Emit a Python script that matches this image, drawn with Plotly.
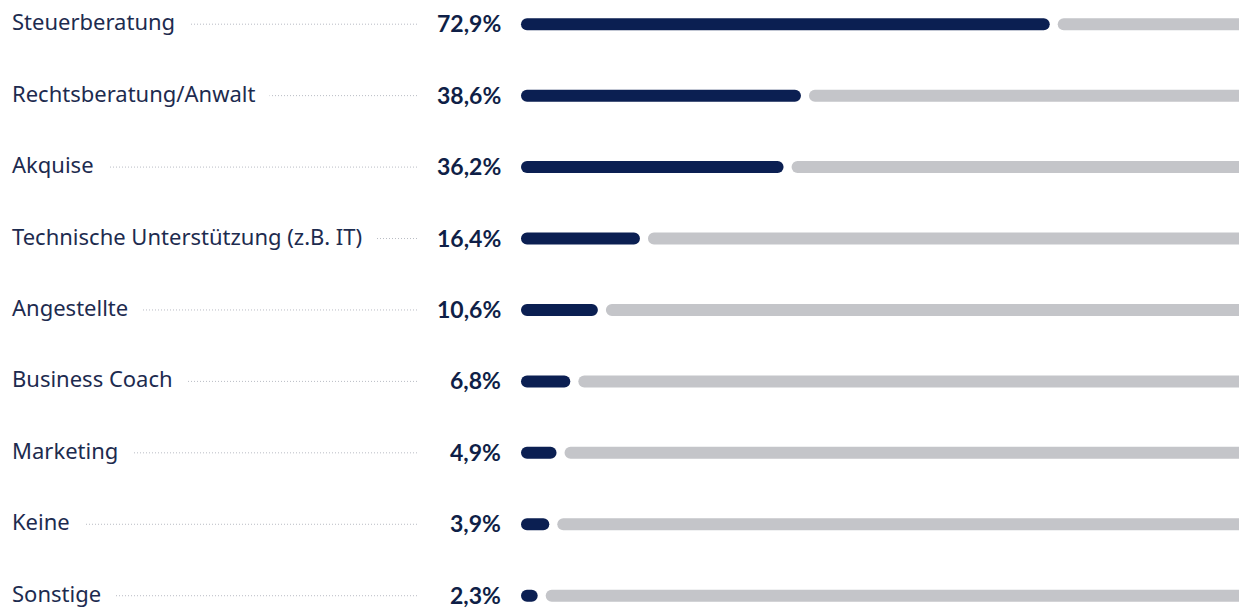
import plotly.graph_objects as go

categories = ["Steuerberatung", "Rechtsberatung/Anwalt", "Akquise",
              "Technische Unterstützung (z.B. IT)", "Angestellte", "Business Coach",
              "Marketing", "Keine", "Sonstige"]
values = [72.9, 38.6, 36.2, 16.4, 10.6, 6.8, 4.9, 3.9, 2.3]
value_labels = [f"{v:.1f}".replace(".", ",") + "%" for v in values]

# page body has an 8px margin; figure coordinates = reference - 8
OFF = 8
W, H = 1247 - OFF, 608 - OFF
ZERO_PX = 521 - OFF
X_MAX = 100.1
PXU = (W - ZERO_PX) / X_MAX
X_MIN = -ZERO_PX / PXU
GAP = 8 / PXU
ROW = 71.44
Y_TOP = 24.2 - OFF

def px_to_paper(px):
    return (px - OFF) / W

DARK = "#0b1f52"
GRAY = "#c4c5c9"
TEXT = "#1d2b4f"

idx = list(range(len(categories)))

fig = go.Figure()
fig.add_trace(go.Bar(
    y=idx, x=values, base=[0] * len(values), orientation="h",
    marker=dict(color=DARK, cornerradius=6, line=dict(width=0)),
    width=12 / ROW, hoverinfo="skip", showlegend=False))
fig.add_trace(go.Bar(
    y=idx, x=[100 - v - GAP for v in values], base=[v + GAP for v in values],
    orientation="h",
    marker=dict(color=GRAY, cornerradius=6, line=dict(width=0)),
    width=12 / ROW, hoverinfo="skip", showlegend=False))

shapes = []
annotations = []
PAD = 14
for i, (cat, lab) in enumerate(zip(categories, value_labels)):
    shapes.append(dict(type="line", xref="paper", yref="y",
                       x0=px_to_paper(20), x1=px_to_paper(418), y0=i, y1=i,
                       line=dict(color="#b9bcc4", width=1, dash="1px,2px"),
                       layer="below"))
    annotations.append(dict(x=px_to_paper(11 - PAD), y=i, xref="paper", yref="y",
                            text=cat, showarrow=False, xanchor="left", yanchor="middle",
                            bgcolor="white", borderpad=PAD, yshift=3,
                            font=dict(family="Noto Sans", size=22, color=TEXT)))
    annotations.append(dict(x=px_to_paper(503), y=i, xref="paper", yref="y",
                            text=f"<b>{lab}</b>", showarrow=False, xanchor="right",
                            yanchor="middle", yshift=1,
                            font=dict(family="Lato", size=23, color="#0f1f47")))

y_lo = -Y_TOP / ROW
y_hi = (H - Y_TOP) / ROW

fig.update_layout(
    width=W, height=H, barmode="overlay",
    margin=dict(l=0, r=0, t=0, b=0),
    plot_bgcolor="white", paper_bgcolor="white",
    xaxis=dict(range=[X_MIN, X_MAX], visible=False, fixedrange=True),
    yaxis=dict(range=[y_hi, y_lo], visible=False, fixedrange=True),
    shapes=shapes, annotations=annotations,
)

fig.write_html("out.html")
